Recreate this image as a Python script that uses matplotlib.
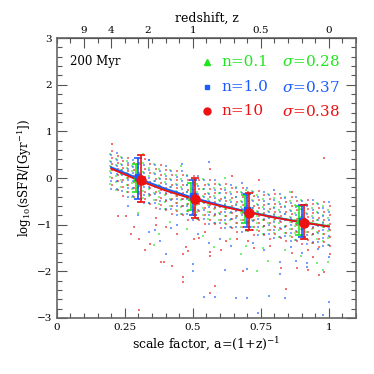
import numpy as np
import matplotlib
matplotlib.use("Agg")
import matplotlib.pyplot as plt
from matplotlib.ticker import MultipleLocator

plt.rcParams["font.family"] = ["DejaVu Serif"]
plt.rcParams["mathtext.fontset"] = "dejavuserif"

# --- snapshots (scale factor) ---
a_snap = [0.20, 0.22, 0.24, 0.26, 0.28, 0.30, 0.32, 0.34, 0.36, 0.38, 0.40,
          0.42, 0.44, 0.46, 0.48, 0.50, 0.52, 0.54, 0.56, 0.58, 0.60, 0.62,
          0.64, 0.66, 0.68, 0.70, 0.72, 0.74, 0.76, 0.78, 0.80, 0.82, 0.84,
          0.86, 0.88, 0.90, 0.92, 0.94, 0.96, 0.98, 1.00]

# log sSFR of individual galaxies, one row per snapshot
green_core = [
    [0.52, 0.37, 0.26, 0.16, 0.02, -0.13], [0.41, 0.29, 0.17, 0.05, -0.09, -0.25],
    [0.45, 0.30, 0.18, 0.09, -0.05, -0.20], [0.36, 0.21, 0.10, 0.00, -0.14, -0.29],
    [0.26, 0.14, 0.02, -0.10, -0.24, -0.40], [0.43, 0.23, 0.07, -0.05, -0.19, -0.34],
    [0.32, 0.12, -0.02, -0.14, -0.28, -0.43], [0.21, 0.04, -0.11, -0.24, -0.38, -0.54],
    [0.30, 0.10, -0.06, -0.18, -0.32, -0.47], [0.19, -0.01, -0.15, -0.27, -0.41, -0.56],
    [0.08, -0.09, -0.24, -0.37, -0.51, -0.67], [0.17, -0.03, -0.19, -0.31, -0.45, -0.60],
    [0.07, -0.13, -0.27, -0.39, -0.53, -0.68], [-0.03, -0.20, -0.35, -0.48, -0.62, -0.78],
    [0.06, -0.14, -0.30, -0.42, -0.56, -0.71], [-0.03, -0.23, -0.37, -0.49, -0.63, -0.78],
    [-0.13, -0.30, -0.45, -0.58, -0.72, -0.88], [-0.03, -0.23, -0.39, -0.51, -0.65, -0.80],
    [-0.12, -0.32, -0.46, -0.58, -0.72, -0.87], [-0.22, -0.39, -0.54, -0.67, -0.81, -0.97],
    [-0.12, -0.32, -0.48, -0.60, -0.74, -0.89], [-0.21, -0.41, -0.55, -0.67, -0.81, -0.96],
    [-0.31, -0.48, -0.63, -0.76, -0.90, -1.06], [-0.20, -0.40, -0.56, -0.68, -0.82, -0.97],
    [-0.29, -0.49, -0.63, -0.75, -0.89, -1.04], [-0.38, -0.55, -0.70, -0.83, -0.97, -1.13],
    [-0.28, -0.48, -0.64, -0.76, -0.90, -1.05], [-0.36, -0.56, -0.70, -0.82, -0.96, -1.11],
    [-0.46, -0.63, -0.78, -0.91, -1.05, -1.21], [-0.35, -0.55, -0.71, -0.83, -0.97, -1.12],
    [-0.43, -0.63, -0.77, -0.89, -1.03, -1.18], [-0.52, -0.69, -0.84, -0.97, -1.11, -1.27],
    [-0.41, -0.61, -0.77, -0.89, -1.03, -1.18], [-0.49, -0.69, -0.83, -0.95, -1.09, -1.24],
    [-0.58, -0.75, -0.90, -1.03, -1.17, -1.33], [-0.47, -0.67, -0.83, -0.95, -1.09, -1.24],
    [-0.55, -0.75, -0.89, -1.01, -1.15, -1.30], [-0.64, -0.81, -0.96, -1.09, -1.23, -1.39],
    [-0.53, -0.73, -0.89, -1.01, -1.15, -1.30], [-0.60, -0.80, -0.94, -1.06, -1.20, -1.35],
    [-0.69, -0.86, -1.01, -1.14, -1.28, -1.44],
]
blue_core = [
    [0.49, 0.35, 0.24, 0.11, -0.06, -0.24], [0.54, 0.38, 0.26, 0.09, -0.06, -0.24],
    [0.44, 0.29, 0.17, 0.07, -0.08, -0.27], [0.33, 0.19, 0.08, -0.05, -0.22, -0.40],
    [0.39, 0.23, 0.11, -0.06, -0.21, -0.39], [0.41, 0.22, 0.06, -0.07, -0.22, -0.41],
    [0.28, 0.10, -0.05, -0.19, -0.36, -0.54], [0.38, 0.17, 0.00, -0.20, -0.35, -0.53],
    [0.28, 0.09, -0.07, -0.20, -0.35, -0.54], [0.15, -0.03, -0.18, -0.32, -0.49, -0.67],
    [0.25, 0.04, -0.13, -0.33, -0.48, -0.66], [0.15, -0.04, -0.20, -0.33, -0.48, -0.67],
    [0.03, -0.15, -0.30, -0.44, -0.61, -0.79], [0.14, -0.07, -0.24, -0.44, -0.59, -0.77],
    [0.04, -0.15, -0.31, -0.44, -0.59, -0.78], [-0.07, -0.25, -0.40, -0.54, -0.71, -0.89],
    [0.04, -0.17, -0.34, -0.54, -0.69, -0.87], [-0.05, -0.24, -0.40, -0.53, -0.68, -0.87],
    [-0.16, -0.34, -0.49, -0.63, -0.80, -0.98], [-0.05, -0.26, -0.43, -0.63, -0.78, -0.96],
    [-0.14, -0.33, -0.49, -0.62, -0.77, -0.96], [-0.25, -0.43, -0.58, -0.72, -0.89, -1.07],
    [-0.14, -0.35, -0.52, -0.72, -0.87, -1.05], [-0.22, -0.41, -0.57, -0.70, -0.85, -1.04],
    [-0.33, -0.51, -0.66, -0.80, -0.97, -1.15], [-0.21, -0.42, -0.59, -0.79, -0.94, -1.12],
    [-0.30, -0.49, -0.65, -0.78, -0.93, -1.12], [-0.40, -0.58, -0.73, -0.87, -1.04, -1.22],
    [-0.29, -0.50, -0.67, -0.87, -1.02, -1.20], [-0.37, -0.56, -0.72, -0.85, -1.00, -1.19],
    [-0.47, -0.65, -0.80, -0.94, -1.11, -1.29], [-0.35, -0.56, -0.73, -0.93, -1.08, -1.26],
    [-0.43, -0.62, -0.78, -0.91, -1.06, -1.25], [-0.53, -0.71, -0.86, -1.00, -1.17, -1.35],
    [-0.41, -0.62, -0.79, -0.99, -1.14, -1.32], [-0.49, -0.68, -0.84, -0.97, -1.12, -1.31],
    [-0.59, -0.77, -0.92, -1.06, -1.23, -1.41], [-0.47, -0.68, -0.85, -1.05, -1.20, -1.38],
    [-0.55, -0.74, -0.90, -1.03, -1.18, -1.37], [-0.64, -0.82, -0.97, -1.11, -1.28, -1.46],
    [-0.52, -0.73, -0.90, -1.10, -1.25, -1.43],
]
red_core = [
    [0.58, 0.43, 0.30, 0.17, 0.01, -0.15], [0.48, 0.33, 0.20, 0.07, -0.07, -0.26],
    [0.37, 0.21, 0.10, -0.04, -0.20, -0.38], [0.42, 0.27, 0.14, 0.01, -0.15, -0.31],
    [0.33, 0.18, 0.05, -0.08, -0.22, -0.41], [0.32, 0.11, -0.04, -0.18, -0.34, -0.52],
    [0.40, 0.20, 0.03, -0.13, -0.29, -0.45], [0.30, 0.10, -0.08, -0.22, -0.36, -0.55],
    [0.19, -0.02, -0.17, -0.31, -0.47, -0.65], [0.27, 0.07, -0.10, -0.26, -0.42, -0.58],
    [0.17, -0.03, -0.21, -0.35, -0.49, -0.68], [0.06, -0.15, -0.30, -0.44, -0.60, -0.78],
    [0.15, -0.05, -0.22, -0.38, -0.54, -0.70], [0.06, -0.14, -0.32, -0.46, -0.60, -0.79],
    [-0.05, -0.26, -0.41, -0.55, -0.71, -0.89], [0.05, -0.15, -0.32, -0.48, -0.64, -0.80],
    [-0.04, -0.24, -0.42, -0.56, -0.70, -0.89], [-0.14, -0.35, -0.50, -0.64, -0.80, -0.98],
    [-0.04, -0.24, -0.41, -0.57, -0.73, -0.89], [-0.13, -0.33, -0.51, -0.65, -0.79, -0.98],
    [-0.23, -0.44, -0.59, -0.73, -0.89, -1.07], [-0.13, -0.33, -0.50, -0.66, -0.82, -0.98],
    [-0.22, -0.42, -0.60, -0.74, -0.88, -1.07], [-0.31, -0.52, -0.67, -0.81, -0.97, -1.15],
    [-0.21, -0.41, -0.58, -0.74, -0.90, -1.06], [-0.29, -0.49, -0.67, -0.81, -0.95, -1.14],
    [-0.39, -0.60, -0.75, -0.89, -1.05, -1.23], [-0.28, -0.48, -0.65, -0.81, -0.97, -1.13],
    [-0.37, -0.57, -0.75, -0.89, -1.03, -1.22], [-0.46, -0.67, -0.82, -0.96, -1.12, -1.30],
    [-0.35, -0.55, -0.72, -0.88, -1.04, -1.20], [-0.43, -0.63, -0.81, -0.95, -1.09, -1.28],
    [-0.52, -0.73, -0.88, -1.02, -1.18, -1.36], [-0.41, -0.61, -0.78, -0.94, -1.10, -1.26],
    [-0.49, -0.69, -0.87, -1.01, -1.15, -1.34], [-0.58, -0.79, -0.94, -1.08, -1.24, -1.42],
    [-0.47, -0.67, -0.84, -1.00, -1.16, -1.32], [-0.55, -0.75, -0.93, -1.07, -1.21, -1.40],
    [-0.64, -0.85, -1.00, -1.14, -1.30, -1.48], [-0.52, -0.72, -0.89, -1.05, -1.21, -1.37],
    [-0.60, -0.80, -0.98, -1.12, -1.26, -1.45],
]

# scattered galaxies away from the main band
green_out_a = [0.36, 0.38, 0.58, 0.74, 0.78, 0.98, 0.96, 0.32, 0.46, 0.62, 0.30, 0.42,
               0.48, 0.54, 0.64, 0.70, 0.76, 0.84, 0.90, 1.00, 0.68, 0.86, 0.70]
green_out_y = [-1.44, -1.19, -1.47, -1.99, -1.77, -1.97, -1.82, 0.52, 0.25, 0.00, -0.75, -0.95,
               -1.10, -1.25, -1.30, -1.45, -1.50, -1.55, -1.68, -1.80, -1.62, -0.30, -0.25]
blue_out_a = [0.34, 0.36, 0.38, 0.40, 0.42, 0.50, 0.50, 0.54, 0.58, 0.62, 0.56, 0.70,
              0.82, 0.82, 0.66, 0.70, 0.78, 0.84, 0.74, 0.98, 1.00, 0.88, 0.92, 0.92,
              0.56, 0.34, 0.46, 0.68, 0.80, 0.44, 0.52, 0.60, 0.64, 0.72, 0.76, 0.86,
              0.90, 0.96, 1.00, 0.26, 0.30]
blue_out_y = [-1.16, -1.12, -1.34, -1.64, -1.08, -1.84, -2.00, -2.56, -2.56, -1.97, -1.40, -1.96,
              -2.06, -1.80, -2.58, -2.58, -2.52, -2.58, -2.89, -2.94, -2.65, -1.78, -1.90, -1.82,
              0.34, 0.39, 0.30, -0.10, -0.25, -1.00, -1.20, -1.30, -1.45, -1.40, -1.55, -1.48,
              -1.60, -1.52, -1.70, -0.60, -0.80]
red_out_a = [0.20, 0.22, 0.25, 0.28, 0.27, 0.30, 0.32, 0.34, 0.36, 0.38, 0.39, 0.42,
             0.46, 0.46, 0.46, 0.48, 0.47, 0.30, 0.52, 0.56, 0.56, 0.58, 0.56, 0.68,
             0.82, 0.84, 0.88, 0.92, 0.96, 0.98, 0.98, 0.44, 0.54, 0.62, 0.72, 0.78,
             0.86, 0.92, 0.94, 1.00, 0.66, 0.36, 0.40, 0.50, 0.60, 0.70, 0.64, 0.56,
             0.74, 0.86]
red_out_y = [0.72, -0.81, -0.81, -1.06, -1.19, -1.31, -1.54, -1.42, -1.01, -1.81, -1.80, -1.89,
             -1.64, -2.13, -2.24, -1.56, -1.47, -2.84, -1.29, -1.58, -1.67, -2.31, -2.46, -1.99,
             -1.94, -2.39, -1.94, -1.97, -2.08, -2.01, 0.42, -1.20, -1.15, -1.35, -1.50, -1.45,
             -1.60, -1.55, -1.70, -1.62, -1.30, -0.85, -1.05, -1.30, -1.55, -1.35, 0.05, 0.20,
             -0.05, -0.30]

# medians with scatter at four epochs
a_bin = [0.3, 0.5, 0.7, 0.9]
green_med = [0.00, -0.40, -0.67, -0.91]
green_lo = [0.31, 0.29, 0.30, 0.31]
green_hi = [0.31, 0.29, 0.31, 0.31]
blue_med = [0.03, -0.39, -0.69, -0.92]
blue_lo = [0.47, 0.40, 0.35, 0.35]
blue_hi = [0.39, 0.35, 0.35, 0.34]
red_med = [-0.04, -0.46, -0.74, -0.96]
red_lo = [0.47, 0.40, 0.37, 0.35]
red_hi = [0.53, 0.45, 0.41, 0.38]

# fitted relations
a_fit = [0.20, 0.30, 0.40, 0.50, 0.60, 0.70, 0.80, 0.90, 1.00]
fit_green = [0.21, -0.03, -0.25, -0.44, -0.59, -0.72, -0.84, -0.94, -1.03]
fit_blue = [0.23, -0.01, -0.23, -0.42, -0.58, -0.72, -0.84, -0.95, -1.04]
fit_red = [0.20, -0.05, -0.27, -0.45, -0.60, -0.73, -0.85, -0.95, -1.04]

# redshift axis labels
z_labels = ["9", "4", "2", "1", "0.5", "0"]
z_tick_a = [0.1, 0.2, 1 / 3, 0.5, 0.75, 1.0]

GREEN = "#1ee61e"
BLUE = "#1a5cff"
RED = "#ee1111"

fig = plt.figure(figsize=(3.74, 3.74), dpi=100)
ax = fig.add_axes([0.152, 0.150, 0.800, 0.748])

# individual galaxies
for core, out_a, out_y, col, dx in [(green_core, green_out_a, green_out_y, GREEN, -0.003),
                                    (blue_core, blue_out_a, blue_out_y, BLUE, 0.0),
                                    (red_core, red_out_a, red_out_y, RED, 0.003)]:
    xs = np.repeat(a_snap, [len(r) for r in core]) + dx
    ys = np.concatenate(core)
    ax.scatter(xs, ys, s=4.0, marker="s", color=col, alpha=0.55, linewidths=0, zorder=2)
    ax.scatter(np.array(out_a) + dx, out_y, s=3.5, marker="s", color=col, alpha=0.6,
               linewidths=0, zorder=2)

ax.plot(a_fit, fit_green, color=GREEN, lw=1.3, zorder=3)
ax.plot(a_fit, fit_blue, color=BLUE, lw=1.3, zorder=3)
ax.plot(a_fit, fit_red, color=RED, lw=1.3, zorder=4)

ax.errorbar(np.array(a_bin) - 0.008, green_med, yerr=[green_lo, green_hi], fmt="^",
            color=GREEN, ms=4, elinewidth=1.2, capsize=3, capthick=1.2, zorder=5)
ax.errorbar(np.array(a_bin) + 0.0, blue_med, yerr=[blue_lo, blue_hi], fmt="s",
            color=BLUE, ms=4, elinewidth=1.2, capsize=3, capthick=1.2, zorder=6)
ax.errorbar(np.array(a_bin) + 0.008, red_med, yerr=[red_lo, red_hi], fmt="o",
            color=RED, ms=6.5, elinewidth=1.2, capsize=3, capthick=1.2, zorder=7)

ax.set_xlim(0, 1.1)
ax.set_ylim(-3, 3)
ax.set_xticks([0, 0.25, 0.5, 0.75, 1])
ax.set_xticklabels(["0", "0.25", "0.5", "0.75", "1"])
ax.xaxis.set_minor_locator(MultipleLocator(0.05))
ax.set_yticks([-3, -2, -1, 0, 1, 2, 3])
ax.set_yticklabels(["\u22123", "\u22122", "\u22121", "0", "1", "2", "3"])
ax.yaxis.set_minor_locator(MultipleLocator(0.2))
ax.tick_params(which="both", direction="in", right=True, top=False, labelsize=7.5,
               color="#555555", width=0.8)
ax.tick_params(which="major", length=7)
ax.tick_params(which="minor", length=3.5)
for sp in ax.spines.values():
    sp.set_color("#666666")
    sp.set_linewidth(1.2)

top = ax.secondary_xaxis("top")
top.set_xticks(z_tick_a)
top.set_xticklabels(z_labels)
top.xaxis.set_minor_locator(MultipleLocator(0.05))
top.tick_params(which="both", direction="in", labelsize=7.5, color="#555555", width=0.8)
top.tick_params(which="major", length=7, pad=2)
top.tick_params(which="minor", length=3.5)
top.set_xlabel("redshift, z", fontsize=9, labelpad=3)

ax.set_xlabel("scale factor, a=(1+z)$^{-1}$", fontsize=9, labelpad=3)
ax.set_ylabel("log$_{10}$(sSFR/[Gyr$^{-1}$])", fontsize=8.5, labelpad=2)

ax.text(0.05, 2.49, "200 Myr", fontsize=8.5, va="center", ha="left")

leg_rows = [("n=0.1", "0.28", GREEN, "^", 4), ("n=1.0", "0.37", BLUE, "s", 3.5),
            ("n=10", "0.38", RED, "o", 5)]
leg_y = [2.49, 1.95, 1.43]
for (nlab, sig, col, mk, ms), yy in zip(leg_rows, leg_y):
    ax.plot([0.552], [yy], marker=mk, color=col, ms=ms, ls="none")
    ax.text(0.605, yy, nlab, color=col, fontsize=11, va="center", ha="left")
    ax.text(0.826, yy, r"$\sigma$=" + sig, color=col, fontsize=11, va="center", ha="left")

fig.savefig("out.png", dpi=100)
